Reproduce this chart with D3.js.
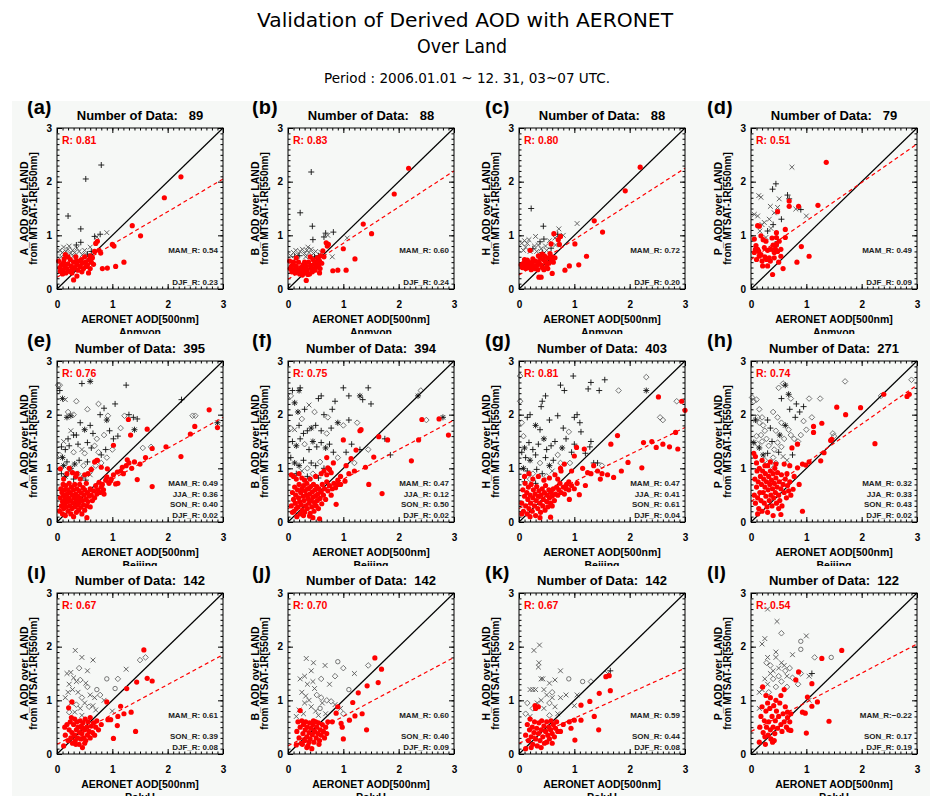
<!DOCTYPE html>
<html>
<head>
<meta charset="utf-8">
<script src="https://cdn.jsdelivr.net/npm/d3@7"></script>
<style>
  body { margin: 0; background: #fff; }
  text { font-family: "Liberation Sans", Arial, sans-serif; }
</style>
</head>
<body>
<div id="myVis"></div>
<script>
// panel metadata
const panelTags = ["(a)","(b)","(c)","(d)","(e)","(f)","(g)","(h)","(i)","(j)","(k)","(l)"]
const nData = [89, 88, 88, 79, 395, 394, 403, 271, 142, 142, 142, 122]
const rTotal = ["0.81","0.83","0.80","0.51","0.76","0.75","0.81","0.74","0.67","0.70","0.67","0.54"]
const sensors = ["A", "B", "H", "P"]
const stations = ["Anmyon", "Beijing", "PolyU"]
// regression line: value at x=0 and value at x=3
const fitAt0 = [0.22, 0.18, 0.26, 0.55, 0.22, 0.25, 0.25, 0.38, 0.18, 0.15, 0.20, 0.42]
const fitAt3 = [2.05, 2.20, 2.25, 2.70, 1.95, 1.90, 1.76, 2.55, 1.85, 1.80, 1.60, 2.05]
// seasonal R
const mamR = [0.54, 0.60, 0.72, 0.49, 0.49, 0.47, 0.47, 0.32, 0.61, 0.60, 0.59, -0.22]
const jjaR = [null, null, null, null, 0.36, 0.12, 0.41, 0.33, null, null, null, null]
const sonR = [null, null, null, null, 0.40, 0.50, 0.61, 0.43, 0.39, 0.40, 0.44, 0.17]
const djfR = [0.23, 0.24, 0.20, 0.09, 0.02, 0.02, 0.04, 0.02, 0.08, 0.09, 0.08, 0.19]
const axisTicks = [0, 1, 2, 3]

// red = matched points [aeronet, satellite]; blk = [aeronet, satellite, symbol]
// symbol: 0 plus, 1 cross, 2 diamond, 3 asterisk, 4 circle
const redA = [[2.24,2.09],[1.94,1.70],[1.36,1.18],[1.51,0.99],[1.0,0.83],[1.03,0.80],[1.06,0.42],[1.21,0.50],[0.82,0.38],[0.91,0.39],[0.73,0.89],[0.70,0.85],[0.79,0.67],[0.76,0.72],[0.57,0.30],[0.30,0.17],[0.36,0.24],[0.15,0.64],[0.03,0.52],
[0.05,0.40],[0.08,0.45],[0.1,0.35],[0.12,0.5],[0.14,0.42],[0.16,0.3],[0.18,0.38],[0.2,0.47],[0.22,0.33],[0.24,0.55],[0.26,0.42],[0.28,0.36],[0.3,0.5],[0.32,0.4],[0.34,0.6],[0.36,0.45],[0.38,0.35],[0.4,0.52],[0.42,0.42],[0.44,0.55],[0.46,0.48],[0.48,0.38],[0.5,0.6],[0.52,0.5],[0.55,0.45],[0.58,0.55],[0.6,0.62],[0.62,0.5],[0.64,0.58],[0.66,0.46],[0.2,0.6],[0.1,0.28],[0.06,0.33],[0.13,0.56],[0.27,0.3],[0.35,0.52],[0.45,0.32],[0.53,0.42],[0.68,0.7],[0.6,0.38]]
const blkA = [[0.8,2.31,0],[0.52,2.05,0],[0.2,1.36,0],[0.43,1.12,0],[0.43,0.87,0],[0.68,0.98,0],[0.78,1.02,0],[0.72,0.97,1],[0.9,1.05,1],
[0.05,0.72,1],[0.1,0.68,1],[0.12,0.78,1],[0.16,0.7,1],[0.2,0.74,1],[0.24,0.66,1],[0.28,0.72,1],[0.32,0.68,1],[0.36,0.76,1],[0.4,0.7,1],[0.15,0.62,1],[0.3,0.62,1],[0.46,0.64,1],[0.5,0.72,1],[0.08,0.6,1],[0.55,0.65,0],[0.62,0.7,0],[0.35,0.82,0],[0.22,0.8,1],[0.6,0.78,1]]

const redB = [[2.18,2.25],[1.92,1.77],[1.36,1.21],[1.51,1.03],[1.0,0.75],[1.05,0.35],[1.21,0.56],[0.81,0.34],[0.9,0.35],[0.69,0.86],[0.71,0.8],[0.73,0.83],[0.63,0.71],[0.57,0.3],[0.33,0.16],[0.03,0.52],[0.15,0.58],
[0.04,0.38],[0.07,0.32],[0.09,0.45],[0.11,0.36],[0.13,0.3],[0.15,0.42],[0.17,0.35],[0.19,0.5],[0.21,0.28],[0.23,0.4],[0.25,0.33],[0.27,0.45],[0.29,0.38],[0.31,0.3],[0.33,0.42],[0.35,0.36],[0.37,0.5],[0.39,0.28],[0.41,0.44],[0.43,0.38],[0.45,0.55],[0.47,0.46],[0.49,0.35],[0.51,0.5],[0.53,0.58],[0.55,0.44],[0.57,0.52],[0.59,0.62],[0.61,0.48],[0.65,0.6],[0.5,0.4],[0.4,0.6],[0.3,0.5],[0.2,0.34],[0.1,0.5],[0.06,0.42],[0.26,0.26],[0.44,0.32],[0.36,0.27],[0.58,0.38]]
const blkB = [[0.42,2.18,0],[0.22,1.42,0],[0.44,1.17,0],[0.45,0.92,0],[0.68,1.04,0],[0.82,1.06,0],[0.65,0.97,0],[0.72,1.0,1],[1.07,0.95,1],[0.8,0.6,1],[0.05,0.62,1],[0.1,0.68,1],[0.14,0.72,1],[0.18,0.64,1],[0.22,0.7,1],[0.26,0.74,1],[0.3,0.66,1],[0.34,0.72,1],[0.38,0.68,1],[0.42,0.74,1],[0.46,0.66,1],[0.5,0.7,1],[0.2,0.62,0],[0.32,0.6,1],[0.55,0.62,0],[0.6,0.68,1],[0.12,0.6,0],[0.36,0.78,1],[0.48,0.6,0]]

const redC = [[2.19,2.27],[1.92,1.83],[1.36,1.27],[1.51,1.06],[1.01,0.84],[1.08,0.45],[1.22,0.61],[0.83,0.35],[0.91,0.43],[0.63,1.03],[0.71,0.92],[0.58,0.84],[0.73,0.83],[0.6,0.29],[0.36,0.22],[0.4,0.22],[0.75,0.98],
[0.04,0.45],[0.06,0.4],[0.08,0.48],[0.1,0.42],[0.12,0.38],[0.14,0.46],[0.16,0.4],[0.18,0.5],[0.2,0.44],[0.22,0.36],[0.24,0.48],[0.26,0.42],[0.28,0.38],[0.3,0.52],[0.32,0.44],[0.34,0.36],[0.36,0.5],[0.38,0.58],[0.4,0.45],[0.42,0.4],[0.44,0.55],[0.46,0.62],[0.48,0.5],[0.5,0.42],[0.52,0.58],[0.54,0.48],[0.56,0.66],[0.58,0.54],[0.6,0.6],[0.62,0.5],[0.45,0.36],[0.35,0.62],[0.25,0.56],[0.15,0.54],[0.2,0.72],[0.1,0.55],[0.65,0.58],[0.52,0.38],[0.3,0.4],[0.42,0.65]]
const blkC = [[0.22,1.5,0],[0.44,1.17,0],[0.45,0.93,0],[0.7,1.02,0],[0.25,0.75,0],[0.1,0.9,1],[0.15,0.85,1],[0.3,0.98,1],[0.35,0.82,1],[0.4,0.75,1],[0.55,0.9,1],[0.72,1.12,1],[1.05,1.22,1],[0.2,0.7,1],[0.12,0.78,1],[0.5,0.72,1],[0.8,1.0,1],[0.65,0.95,1],[0.05,0.85,1],[0.08,0.72,1],[0.18,0.92,1],[0.28,0.8,1],[0.38,0.88,0],[0.48,0.8,1],[0.58,0.76,0],[0.66,0.82,1],[0.32,0.7,1],[0.42,0.68,0]]

const redD = [[1.36,2.36],[1.21,1.56],[0.86,1.54],[0.69,1.54],[0.69,1.64],[0.48,1.44],[0.62,1.11],[0.62,0.96],[1.05,0.61],[0.91,0.79],[0.83,0.5],[0.58,0.38],[0.39,0.27],[0.12,1.18],[0.15,1.17],[0.09,0.81],[0.12,0.74],[0.15,0.61],[0.21,0.43],[0.3,0.43],[0.33,0.58],[0.42,0.58],[0.46,0.83],[0.46,0.96],[0.46,1.05],[0.42,0.68],[0.54,0.61],[0.54,0.74],[0.51,0.89],[0.06,0.93],[0.06,0.68],[0.24,0.77],[0.36,0.74],[0.27,0.89],[0.18,0.99],[0.08,0.74],[0.1,0.55],[0.14,0.7],[0.2,0.52],[0.25,0.6],[0.3,0.72],[0.35,0.52],[0.4,0.82],[0.44,0.75],[0.48,0.7],[0.5,0.5],[0.22,0.92],[0.38,0.95],[0.18,0.64],[0.28,0.55]]
const blkD = [[0.74,2.27,1],[0.14,1.74,1],[0.18,1.71,1],[0.51,1.68,1],[0.35,1.54,1],[0.48,1.52,1],[0.06,1.39,1],[0.12,1.36,1],[0.24,1.24,1],[0.33,1.3,1],[0.36,1.13,1],[0.27,0.96,1],[1.0,1.36,1],[0.81,1.49,1],[0.16,1.08,1],[0.39,1.86,0],[0.45,1.96,0],[0.66,1.75,0],[0.69,1.68,0],[0.9,1.48,0],[0.45,0.8,0],[0.3,1.08,0],[0.4,1.2,0],[0.42,1.42,1],[0.2,1.2,1],[0.55,1.3,0],[0.48,0.88,0]]

const redE = [[2.75,2.09],[2.49,1.78],[2.9,1.76],[2.41,1.64],[2.24,1.22],[1.97,1.4],[1.72,1.37],[1.72,0.66],[1.45,0.79],[1.63,1.73],[1.29,1.91],[1.33,1.62],[1.27,1.16],[1.02,1.43],[1.06,0.71],[0.97,0.77],[0.85,0.52],[0.73,1.15],[0.8,1.02],[0.91,0.99],[1.09,0.93],[1.18,1.02],[0.54,0.08],[0.06,0.99],[0.36,0.9],
[0.05,0.2],[0.06,0.45],[0.07,0.62],[0.08,0.3],[0.09,0.55],[0.1,0.15],[0.1,0.38],[0.11,0.7],[0.12,0.25],[0.12,0.5],[0.13,0.6],[0.14,0.33],[0.15,0.44],[0.15,0.12],[0.16,0.68],[0.17,0.28],[0.18,0.52],[0.19,0.38],[0.2,0.2],[0.2,0.6],[0.21,0.45],[0.22,0.72],[0.23,0.3],[0.24,0.55],[0.25,0.15],[0.25,0.4],[0.26,0.65],[0.27,0.25],[0.28,0.5],[0.29,0.35],[0.3,0.6],[0.3,0.1],[0.31,0.45],[0.32,0.7],[0.33,0.28],[0.34,0.52],[0.35,0.18],[0.35,0.4],[0.36,0.62],[0.37,0.32],[0.38,0.48],[0.39,0.22],[0.4,0.58],[0.4,0.36],[0.41,0.7],[0.42,0.44],[0.43,0.27],[0.44,0.54],[0.45,0.15],[0.46,0.4],[0.47,0.64],[0.48,0.32],[0.49,0.5],[0.5,0.22],[0.5,0.6],[0.52,0.42],[0.53,0.72],[0.54,0.3],[0.55,0.55],[0.56,0.38],[0.58,0.48],[0.6,0.62],[0.6,0.28],[0.62,0.5],[0.64,0.4],[0.66,0.58],[0.68,0.45],[0.7,0.68],[0.72,0.52],[0.74,0.6],[0.76,0.74],[0.78,0.55],[0.8,0.65],[0.82,0.7],[0.84,0.6],[0.88,0.78],[0.9,0.84],[0.94,0.72],[0.98,0.8],[1.02,0.88],[1.1,0.72],[1.15,0.95],[1.2,0.9],[1.25,1.05],[1.3,1.1],[1.35,1.0],[1.4,1.12],[1.5,1.08],[1.6,1.2],[0.12,0.8],[0.18,0.9],[0.22,1.0],[0.28,0.92],[0.34,0.85],[0.42,0.8],[0.5,0.88],[0.56,0.9],[0.62,0.98],[0.68,1.12],[0.72,1.15]]
const blkE = [[0.02,2.55,2],[0.05,2.45,0],[0.1,2.3,3],[0.15,2.28,1],[0.2,2.05,2],[0.18,1.95,3],[0.25,1.98,3],[0.35,2.25,2],[0.45,2.58,0],[0.6,2.62,3],[0.55,2.1,2],[0.75,2.2,2],[0.78,2.0,0],[0.85,2.12,0],[0.92,1.98,2],[0.9,1.9,3],[1.05,2.2,0],[1.25,2.55,0],[1.22,1.98,2],[1.3,2.0,0],[1.38,1.95,0],[1.45,1.92,0],[1.4,1.72,3],[1.15,1.75,2],[1.1,1.6,0],[1.02,1.55,0],[0.95,1.7,0],[0.85,1.62,2],[0.72,1.55,2],[0.65,1.65,0],[0.6,1.8,0],[0.5,1.72,3],[0.42,1.85,0],[0.35,1.62,0],[0.3,1.62,0],[0.25,1.7,1],[0.2,1.55,0],[0.12,1.5,1],[0.08,1.4,0],[0.05,1.25,2],[0.1,1.2,3],[0.15,1.35,0],[0.22,1.42,0],[0.3,1.3,2],[0.38,1.45,0],[0.45,1.35,1],[0.5,1.28,2],[0.55,1.48,0],[0.62,1.38,0],[0.68,1.42,2],[0.75,1.3,2],[0.8,1.25,0],[0.88,1.35,0],[1.0,1.35,2],[0.12,1.05,3],[0.18,1.12,0],[0.25,1.0,3],[0.32,1.08,3],[0.4,1.15,0],[0.48,1.05,2],[0.55,1.12,0],[0.62,0.98,0],[0.7,1.05,2],[0.8,1.1,2],[0.08,0.9,0],[0.15,0.85,3],[0.22,0.95,1],[0.3,0.8,0],[0.38,0.9,2],[0.45,0.82,0],[0.52,0.78,0],[0.6,0.88,1],[0.9,1.2,2],[1.7,1.4,2],[2.5,1.98,2],[2.45,1.98,2],[2.9,1.85,3],[2.25,2.28,0],[0.05,2.55,2],[0.3,2.0,2],[1.55,1.38,2]]

const redF = [[2.42,1.91],[2.73,1.92],[2.9,1.62],[2.36,1.53],[2.23,1.14],[1.8,1.53],[1.64,1.59],[1.7,0.53],[1.46,0.7],[1.55,1.21],[1.3,1.7],[1.32,1.72],[1.23,1.34],[1.0,1.53],[1.14,1.18],[1.05,1.05],[0.87,0.33],[1.03,0.76],[0.9,0.7],[0.72,1.01],[0.78,0.92],[0.06,0.88],[0.39,0.11],[0.57,0.06],[1.4,1.02],[1.2,0.95],[1.1,0.9],[0.95,0.85],[0.82,1.1],[0.7,1.2],
[0.06,0.3],[0.08,0.55],[0.1,0.42],[0.11,0.2],[0.12,0.65],[0.13,0.35],[0.14,0.5],[0.16,0.1],[0.17,0.6],[0.18,0.28],[0.19,0.45],[0.2,0.7],[0.21,0.38],[0.22,0.15],[0.23,0.55],[0.24,0.32],[0.25,0.62],[0.26,0.22],[0.27,0.48],[0.28,0.68],[0.29,0.4],[0.3,0.18],[0.31,0.58],[0.32,0.3],[0.33,0.5],[0.34,0.72],[0.35,0.25],[0.36,0.44],[0.37,0.62],[0.38,0.35],[0.39,0.52],[0.4,0.16],[0.41,0.66],[0.42,0.4],[0.43,0.28],[0.44,0.56],[0.45,0.46],[0.46,0.7],[0.47,0.2],[0.48,0.36],[0.49,0.6],[0.5,0.48],[0.51,0.3],[0.52,0.66],[0.53,0.4],[0.54,0.52],[0.55,0.25],[0.56,0.62],[0.58,0.44],[0.6,0.56],[0.61,0.34],[0.62,0.7],[0.64,0.5],[0.66,0.62],[0.68,0.42],[0.7,0.75],[0.72,0.58],[0.75,0.68],[0.78,0.5],[0.8,0.62],[0.83,0.72],[0.86,0.64],[0.9,0.78],[0.95,0.7],[0.1,0.85],[0.15,0.8],[0.2,0.9],[0.25,0.82],[0.3,0.78],[0.4,0.8],[0.5,0.85],[0.6,0.9],[0.65,0.95],[0.7,0.88],[0.75,0.98],[0.15,0.25],[0.28,0.12],[0.45,0.08],[0.35,0.62],[0.08,0.18]]
const blkF = [[0.05,2.35,2],[0.08,2.45,0],[0.12,2.22,3],[0.2,2.45,3],[0.22,2.5,0],[0.18,2.05,3],[0.25,1.92,2],[0.3,2.1,0],[0.38,2.18,1],[0.48,2.05,2],[0.55,2.3,0],[0.6,2.35,0],[0.72,1.95,2],[0.65,2.0,0],[0.8,2.1,0],[0.85,2.25,0],[1.0,2.5,0],[1.1,2.35,0],[1.3,2.35,3],[1.35,2.28,0],[1.5,2.2,0],[1.45,2.5,0],[1.25,1.85,2],[1.1,1.9,0],[1.0,1.8,2],[0.9,1.85,3],[0.78,1.75,0],[0.7,1.65,2],[0.6,1.7,0],[0.5,1.8,0],[0.42,1.75,3],[0.35,1.7,0],[0.28,1.65,0],[0.2,1.8,0],[0.12,1.72,1],[0.05,1.75,2],[0.08,1.5,0],[0.15,1.42,3],[0.22,1.55,0],[0.3,1.45,2],[0.38,1.35,0],[0.45,1.5,3],[0.52,1.4,0],[0.6,1.48,0],[0.68,1.38,3],[0.75,1.45,0],[0.82,1.3,0],[0.9,1.2,2],[1.15,1.45,0],[1.3,1.35,0],[1.05,1.3,0],[0.05,1.2,0],[0.12,1.1,3],[0.2,1.05,3],[0.28,1.15,0],[0.35,1.0,2],[0.42,1.1,0],[0.5,1.05,0],[0.58,1.12,2],[0.65,1.0,0],[0.15,0.9,0],[0.25,0.95,1],[0.35,0.85,0],[0.45,0.9,2],[0.55,0.82,0],[2.35,2.35,3],[2.4,2.45,2],[2.5,1.9,2],[2.8,1.95,3],[1.75,1.55,0],[1.45,1.35,2],[1.2,1.1,2],[1.85,1.25,0]]

const redG = [[2.52,2.33],[2.94,2.25],[3.0,2.08],[2.83,1.67],[2.87,1.36],[2.72,1.4],[2.48,1.39],[2.25,1.48],[2.22,1.01],[1.97,1.11],[1.78,1.61],[1.71,0.83],[1.66,1.45],[1.47,0.8],[1.42,0.95],[1.24,0.92],[1.18,1.36],[1.0,1.23],[1.04,1.39],[0.82,1.08],[0.76,0.95],[1.09,0.51],[0.91,0.42],[0.57,0.09],[1.3,0.9],[1.5,0.9],[1.15,1.0],[1.35,1.05],[0.9,0.75],[1.05,0.72],[0.95,0.95],[0.75,1.0],[0.85,0.62],[1.2,0.68],[1.6,0.88],[1.85,0.95],[2.4,1.5],[2.6,1.45],
[0.05,0.35],[0.07,0.6],[0.08,0.2],[0.1,0.48],[0.11,0.72],[0.12,0.3],[0.14,0.55],[0.15,0.15],[0.16,0.42],[0.17,0.65],[0.18,0.25],[0.2,0.5],[0.21,0.35],[0.22,0.7],[0.24,0.2],[0.25,0.45],[0.26,0.6],[0.28,0.3],[0.29,0.52],[0.3,0.12],[0.31,0.4],[0.32,0.66],[0.34,0.25],[0.35,0.48],[0.36,0.58],[0.38,0.35],[0.39,0.18],[0.4,0.5],[0.42,0.62],[0.43,0.3],[0.44,0.42],[0.46,0.55],[0.47,0.22],[0.48,0.68],[0.5,0.38],[0.51,0.5],[0.52,0.28],[0.54,0.6],[0.55,0.45],[0.57,0.35],[0.58,0.55],[0.6,0.48],[0.62,0.62],[0.64,0.4],[0.66,0.52],[0.68,0.65],[0.7,0.5],[0.72,0.6],[0.74,0.72],[0.76,0.55],[0.8,0.65],[0.82,0.52],[0.86,0.7],[0.9,0.6],[0.95,0.68],[1.0,0.62],[0.1,0.85],[0.18,0.9],[0.25,0.8],[0.35,0.85],[0.45,0.78],[0.55,0.82],[0.65,0.88],[0.05,0.15],[0.2,0.1],[0.38,0.08],[0.6,0.3],[0.7,0.8]]
const blkG = [[0.02,2.72,2],[0.02,2.25,2],[0.05,1.85,2],[0.08,1.6,2],[0.75,2.55,0],[0.82,2.45,0],[0.48,2.35,0],[0.42,2.25,0],[0.4,2.15,0],[0.2,2.0,0],[0.15,1.95,0],[0.3,1.8,3],[0.38,1.72,0],[0.55,1.9,0],[0.7,1.98,0],[0.8,1.75,0],[0.9,1.68,2],[1.0,1.95,0],[1.05,2.0,0],[1.1,1.85,0],[1.12,1.68,0],[0.98,2.72,0],[1.3,2.6,0],[1.55,2.65,0],[1.45,2.45,0],[1.25,2.48,0],[1.8,2.45,2],[1.3,1.5,0],[1.0,1.45,0],[0.85,1.55,0],[0.78,1.38,3],[0.65,1.5,0],[0.58,1.42,0],[0.5,1.35,0],[0.45,1.55,3],[0.35,1.45,0],[0.25,1.35,0],[0.18,1.48,0],[0.1,1.38,3],[0.05,1.3,0],[0.12,1.2,0],[0.2,1.15,3],[0.3,1.25,0],[0.38,1.1,2],[0.48,1.2,0],[0.55,1.05,3],[0.62,1.15,0],[0.7,1.25,2],[0.75,1.1,2],[0.92,1.1,2],[1.35,1.1,0],[1.42,1.1,0],[0.08,1.0,3],[0.15,0.95,0],[0.25,0.9,2],[0.32,0.98,0],[0.42,0.9,0],[0.5,0.85,2],[0.6,0.95,1],[0.1,0.75,0],[0.2,0.8,2],[0.3,0.72,0],[2.3,2.7,2],[2.3,2.45,3],[2.55,1.95,2],[2.6,1.9,2],[2.85,2.25,2],[1.2,1.28,0],[1.5,1.05,2],[1.28,1.4,0],[0.95,1.3,0]]

const redH = [[2.4,2.38],[2.86,2.38],[2.82,2.34],[2.24,1.46],[1.98,2.13],[1.71,2.0],[1.55,2.14],[1.28,1.84],[1.13,1.78],[1.13,1.67],[1.46,1.54],[1.44,1.52],[1.32,1.29],[1.26,1.14],[0.93,0.2],[0.84,1.45],[0.74,1.38],[0.84,1.01],[0.93,1.08],[0.99,1.06],[0.54,0.14],[0.87,0.7],[0.76,0.61],[1.05,1.12],[0.7,1.05],[0.65,0.9],[0.78,0.85],[0.6,1.08],[0.05,1.28],[0.08,1.22],
[0.06,0.5],[0.07,0.8],[0.08,0.35],[0.1,0.65],[0.11,0.95],[0.12,0.45],[0.13,0.75],[0.14,0.25],[0.15,1.0],[0.16,0.55],[0.17,0.85],[0.18,0.4],[0.19,0.7],[0.2,0.2],[0.21,0.95],[0.22,0.55],[0.23,0.8],[0.24,0.35],[0.25,0.65],[0.26,0.9],[0.27,0.48],[0.28,0.75],[0.29,0.28],[0.3,1.05],[0.31,0.6],[0.32,0.85],[0.33,0.4],[0.34,0.7],[0.35,0.95],[0.36,0.5],[0.37,0.78],[0.38,0.3],[0.39,0.62],[0.4,0.9],[0.41,0.45],[0.42,0.72],[0.43,1.0],[0.44,0.55],[0.45,0.82],[0.46,0.35],[0.47,0.65],[0.48,0.92],[0.5,0.5],[0.51,0.75],[0.52,0.4],[0.54,0.62],[0.55,0.88],[0.56,0.3],[0.58,0.7],[0.6,0.55],[0.62,0.8],[0.64,0.45],[0.66,0.68],[0.68,0.58],[0.7,0.75],[0.72,0.5],[0.1,1.1],[0.2,1.15],[0.25,1.05],[0.35,1.12],[0.45,1.08],[0.12,0.15],[0.3,0.18],[0.4,0.12],[0.5,0.25]]
const blkH = [[0.02,2.32,2],[0.05,2.25,2],[0.1,2.28,2],[0.15,2.1,2],[0.12,1.95,2],[0.08,1.9,3],[0.15,1.85,2],[0.2,1.95,2],[0.22,1.8,2],[0.25,1.7,2],[0.18,1.62,2],[0.1,1.6,2],[0.05,1.48,3],[0.12,1.45,2],[0.2,1.5,2],[0.28,1.55,2],[0.32,1.42,2],[0.38,1.5,0],[0.42,1.35,2],[0.48,1.48,2],[0.55,1.4,2],[0.6,1.55,2],[0.52,1.62,3],[0.45,1.7,2],[0.35,1.75,0],[0.3,1.9,0],[0.4,2.05,2],[0.48,1.95,2],[0.55,1.85,2],[0.62,1.8,3],[0.68,1.72,2],[0.72,1.62,2],[0.78,1.55,2],[0.85,1.5,2],[0.9,1.62,2],[0.95,1.88,2],[1.0,1.72,2],[0.8,1.95,0],[0.88,2.05,0],[0.7,2.1,0],[0.55,2.3,0],[0.5,2.5,2],[0.58,2.58,2],[0.62,2.55,3],[0.68,2.38,3],[0.72,2.3,2],[0.82,2.2,0],[0.95,2.15,0],[1.05,2.3,2],[1.25,2.3,2],[1.1,1.95,2],[1.5,1.6,2],[1.48,1.65,2],[0.3,1.28,0],[0.22,1.25,3],[0.4,1.2,2],[0.5,1.3,0],[0.58,1.22,1],[0.15,1.38,3],[0.25,1.15,2],[0.35,1.05,2],[1.7,2.62,2],[2.35,2.35,2],[2.9,2.65,2],[0.65,1.15,1],[0.75,1.25,0],[0.45,1.1,2]]

const redI = [[1.57,1.94],[1.72,1.36],[1.63,1.41],[1.44,1.34],[1.26,1.22],[1.34,0.78],[1.21,0.75],[1.15,0.89],[1.1,0.7],[1.42,0.42],[1.02,0.29],[1.09,0.53],[0.97,0.64],[0.92,0.64],[0.9,0.97],[0.21,0.86],[0.27,0.97],[0.8,0.55],[0.75,0.45],
[0.12,0.15],[0.15,0.35],[0.18,0.55],[0.2,0.25],[0.22,0.45],[0.24,0.6],[0.25,0.3],[0.27,0.4],[0.28,0.2],[0.3,0.55],[0.31,0.35],[0.32,0.65],[0.33,0.25],[0.35,0.45],[0.36,0.6],[0.37,0.3],[0.38,0.5],[0.4,0.18],[0.41,0.4],[0.42,0.62],[0.43,0.28],[0.44,0.52],[0.45,0.38],[0.46,0.12],[0.47,0.58],[0.48,0.3],[0.5,0.45],[0.51,0.65],[0.52,0.25],[0.54,0.5],[0.55,0.35],[0.56,0.6],[0.58,0.42],[0.6,0.3],[0.62,0.52],[0.64,0.4],[0.66,0.58],[0.68,0.35],[0.7,0.5],[0.72,0.62],[0.14,0.5],[0.26,0.68],[0.34,0.18],[0.5,0.2],[0.6,0.68],[0.46,0.48]]
const blkI = [[0.33,1.93,1],[0.45,1.8,1],[0.65,1.75,1],[0.18,1.5,1],[0.25,1.52,1],[0.3,1.42,1],[0.22,1.3,1],[0.35,1.35,1],[0.42,1.38,2],[0.52,1.32,1],[0.55,1.25,2],[0.2,1.15,1],[0.28,1.2,1],[0.38,1.15,1],[0.45,1.05,2],[0.6,1.1,1],[0.68,1.05,1],[0.78,1.1,2],[0.25,0.95,1],[0.35,0.92,2],[0.42,0.85,1],[0.5,0.95,1],[0.58,0.88,2],[0.65,0.9,1],[0.7,0.82,1],[0.32,0.78,1],[0.45,0.72,1],[0.9,1.4,4],[1.1,1.4,2],[1.25,1.58,1],[1.05,1.22,4],[0.85,1.0,1],[1.5,1.75,2],[1.6,1.8,2],[1.0,0.8,1],[0.15,1.05,1],[0.22,0.78,2],[0.55,1.55,1],[0.4,1.6,2],[0.72,1.2,4]]

const redJ = [[1.57,1.79],[1.69,1.58],[1.63,1.33],[1.43,1.27],[1.27,1.14],[1.17,0.96],[1.34,0.75],[1.21,0.71],[1.11,0.63],[1.42,0.45],[1.0,0.28],[0.96,0.57],[0.9,0.88],[0.87,0.76],[0.22,0.81],[0.15,0.17],[0.98,0.5],[0.8,0.6],
[0.16,0.42],[0.18,0.6],[0.2,0.3],[0.22,0.5],[0.24,0.2],[0.25,0.62],[0.27,0.38],[0.28,0.55],[0.3,0.25],[0.31,0.45],[0.32,0.6],[0.34,0.32],[0.35,0.5],[0.36,0.15],[0.38,0.4],[0.39,0.58],[0.4,0.28],[0.42,0.48],[0.43,0.1],[0.44,0.36],[0.45,0.55],[0.47,0.22],[0.48,0.42],[0.5,0.6],[0.51,0.3],[0.52,0.5],[0.54,0.38],[0.55,0.58],[0.57,0.25],[0.58,0.45],[0.6,0.35],[0.62,0.55],[0.64,0.42],[0.66,0.3],[0.68,0.5],[0.7,0.38],[0.72,0.6],[0.26,0.18],[0.38,0.22],[0.46,0.62],[0.56,0.18],[0.34,0.12]]
const blkJ = [[0.33,1.78,1],[0.46,1.7,1],[0.67,1.65,1],[0.3,1.45,1],[0.22,1.4,1],[0.35,1.3,1],[0.45,1.35,1],[0.48,1.22,1],[0.25,1.15,1],[0.32,1.08,1],[0.38,1.0,1],[0.3,0.95,1],[0.42,0.88,1],[0.2,0.82,1],[0.28,0.75,1],[0.5,0.8,1],[0.55,0.72,1],[0.62,0.95,1],[0.7,1.0,2],[0.78,0.98,2],[0.85,0.92,1],[0.6,1.05,2],[0.52,1.1,2],[0.9,1.72,4],[1.0,1.6,2],[1.45,1.65,2],[1.2,1.5,1],[0.75,1.3,1],[0.6,1.4,2],[0.85,1.45,2],[1.1,1.2,4],[0.95,0.85,1],[1.0,0.75,2],[0.42,1.55,1],[0.15,0.7,1],[0.68,0.75,1],[0.58,0.85,4]]

const redK = [[1.63,1.46],[1.57,1.44],[1.65,1.18],[1.45,1.13],[1.28,0.98],[1.12,0.91],[1.36,0.7],[1.12,0.63],[1.0,0.63],[0.91,0.6],[1.44,0.45],[1.01,0.26],[0.94,0.48],[0.29,0.9],[0.12,0.1],[0.8,0.55],[0.75,0.42],
[0.12,0.35],[0.15,0.55],[0.17,0.25],[0.19,0.45],[0.2,0.65],[0.22,0.32],[0.24,0.5],[0.25,0.18],[0.27,0.4],[0.28,0.6],[0.3,0.28],[0.32,0.48],[0.33,0.15],[0.35,0.38],[0.36,0.58],[0.38,0.25],[0.4,0.45],[0.41,0.62],[0.43,0.32],[0.45,0.52],[0.46,0.2],[0.48,0.42],[0.5,0.6],[0.52,0.35],[0.54,0.5],[0.55,0.28],[0.57,0.45],[0.58,0.62],[0.6,0.38],[0.62,0.55],[0.64,0.32],[0.66,0.48],[0.68,0.6],[0.7,0.42],[0.3,0.85],[0.35,0.88],[0.22,0.12],[0.4,0.12],[0.5,0.22],[0.6,0.2]]
const blkK = [[0.27,1.93,1],[0.37,2.03,1],[0.36,1.7,1],[0.35,1.62,1],[0.4,1.4,1],[0.43,1.4,1],[0.25,1.2,1],[0.3,1.2,1],[0.55,1.32,1],[0.65,1.38,1],[0.75,1.55,1],[0.2,1.2,1],[0.45,1.2,1],[0.5,1.1,1],[0.6,1.05,1],[0.4,1.0,1],[0.33,0.95,1],[0.25,0.85,2],[0.45,0.85,1],[0.55,0.95,2],[0.65,0.88,1],[0.75,1.05,1],[0.85,1.1,1],[0.15,0.95,2],[0.12,0.75,2],[0.2,0.7,1],[0.9,1.4,4],[1.15,1.35,4],[1.3,1.35,2],[1.6,1.5,1],[1.65,1.55,0],[1.05,1.1,1],[1.0,0.9,1],[0.7,0.75,1],[0.55,0.72,2],[0.6,1.15,2]]

const redL = [[1.64,1.93],[1.28,1.78],[0.86,1.53],[0.81,1.38],[1.1,1.31],[1.02,1.06],[1.1,0.89],[1.2,0.97],[0.93,0.78],[0.98,0.76],[1.41,0.61],[1.0,0.39],[0.66,0.78],[0.72,0.44],[0.39,0.22],[0.15,0.22],[0.21,1.25],[0.27,1.09],[0.54,1.09],[0.6,1.2],
[0.16,0.5],[0.18,0.7],[0.2,0.88],[0.22,0.4],[0.24,0.62],[0.25,0.32],[0.27,0.8],[0.28,0.5],[0.3,0.95],[0.31,0.35],[0.32,0.6],[0.34,0.85],[0.35,0.45],[0.36,0.28],[0.38,0.7],[0.4,0.5],[0.41,0.9],[0.43,0.38],[0.44,0.62],[0.46,0.8],[0.48,0.48],[0.5,0.7],[0.52,0.95],[0.54,0.55],[0.56,0.42],[0.58,0.75],[0.6,0.6],[0.62,0.88],[0.64,0.5],[0.66,0.68],[0.68,0.45],[0.7,0.6],[0.72,0.75],[0.45,1.0],[0.35,1.05],[0.26,0.18],[0.42,0.25]]
const blkL = [[0.3,2.7,1],[0.47,2.47,1],[0.25,2.15,1],[0.2,2.05,1],[0.45,1.9,1],[0.3,1.8,1],[0.45,1.8,1],[0.75,1.85,1],[1.0,2.2,1],[0.55,1.7,1],[0.6,1.65,1],[0.35,1.5,1],[0.2,1.2,1],[0.15,1.15,1],[1.05,1.0,1],[0.65,1.45,1],[0.25,1.4,1],[0.4,1.55,1],[0.5,1.6,1],[0.3,1.3,1],[0.15,0.85,1],[0.55,2.25,2],[0.9,2.1,4],[0.9,1.95,4],[1.15,1.8,2],[1.45,1.8,4],[0.9,1.5,2],[0.62,1.55,2],[0.4,1.4,2],[0.5,1.45,2],[0.7,1.6,2],[0.35,1.65,2],[0.55,1.35,2],[0.45,1.25,2],[0.75,1.42,2],[0.85,1.3,2],[1.05,1.45,1],[1.1,1.5,0],[0.65,1.25,2],[0.32,1.15,2],[0.28,1.7,2]]

const redSets = [redA, redB, redC, redD, redE, redF, redG, redH, redI, redJ, redK, redL]
const blkSets = [blkA, blkB, blkC, blkD, blkE, blkF, blkG, blkH, blkI, blkJ, blkK, blkL]

// layout
const colX = [57, 288, 519, 751]
const rowY = [128, 361, 593]
const tagX = [27, 252, 485, 707]
const W = 166, H = 161

const symPath = [
  "M-3,0H3M0,-3V3",
  "M-2.4,-2.4L2.4,2.4M-2.4,2.4L2.4,-2.4",
  "M0,-2.8L2.8,0L0,2.8L-2.8,0Z",
  "M-3,0H3M0,-3V3M-2.2,-2.2L2.2,2.2M-2.2,2.2L2.2,-2.2",
  "M2.2,0A2.2,2.2 0 1,1 -2.2,0A2.2,2.2 0 1,1 2.2,0"
]
const symColor = ["#111", "#555", "#666", "#111", "#666"]

const svg = d3.select("#myVis")
    .append("svg")
        .attr("width", 930)
        .attr("height", 796)

// title
const titleFont = "'DejaVu Sans', 'Noto Sans', sans-serif"
svg.append("text").attr("x", 465).attr("y", 27).attr("text-anchor", "middle")
    .attr("font-size", 19).attr("textLength", 416).attr("lengthAdjust", "spacingAndGlyphs")
    .style("font-family", titleFont)
    .text("Validation of Derived AOD with AERONET")
svg.append("text").attr("x", 462).attr("y", 53).attr("text-anchor", "middle")
    .attr("font-size", 19).attr("textLength", 90).attr("lengthAdjust", "spacingAndGlyphs")
    .style("font-family", titleFont)
    .text("Over Land")
svg.append("text").attr("x", 467).attr("y", 83).attr("text-anchor", "middle")
    .attr("font-size", 14).attr("textLength", 286).attr("lengthAdjust", "spacingAndGlyphs")
    .style("font-family", titleFont)
    .text("Period : 2006.01.01 ~ 12. 31, 03~07 UTC.")

const defs = svg.append("defs")
const fmtN = d3.format("5d")
const fmtR = d3.format("5.2f")

panelTags.forEach((tag, i) => {
  const row = Math.floor(i / 4), col = i % 4
  const bx = colX[col], by = rowY[row]

  defs.append("clipPath").attr("id", "clip" + i)
    .append("rect").attr("x", bx - 45).attr("y", by - 27).attr("width", 232).attr("height", H + 74)

  const panel = svg.append("g").attr("clip-path", "url(#clip" + i + ")")
  panel.append("rect").attr("x", bx - 45).attr("y", by - 27).attr("width", 232).attr("height", H + 74)
    .attr("fill", "#f6f8f6")

  panel.append("text").attr("x", tagX[col]).attr("y", by - 14)
    .attr("font-size", 20).attr("font-weight", "bold").text(tag)

  const g = panel.append("g").attr("transform", "translate(" + bx + "," + by + ")")

  const x = d3.scaleLinear().domain([0, 3]).range([0, W])
  const y = d3.scaleLinear().domain([0, 3]).range([H, 0])

  g.append("text").attr("x", W / 2).attr("y", -8).attr("text-anchor", "middle")
    .attr("font-size", 13).attr("font-weight", "bold").style("white-space", "pre")
    .text("Number of Data:" + fmtN(nData[i]))

  // ticks on all four sides, pointing inward
  const minor = d3.range(0, 3.001, 0.1)
  const addAxis = (axis, tr, labels) => {
    const a = g.append("g").attr("transform", tr)
    a.call(axis.tickValues(minor).tickSizeInner(-2.5).tickSizeOuter(0).tickFormat(""))
    const b = g.append("g").attr("transform", tr)
    b.call(axis.tickValues(axisTicks).tickSizeInner(-5).tickSizeOuter(0)
        .tickFormat(labels ? d3.format("d") : ""))
    a.select(".domain").remove()
    b.select(".domain").remove()
    b.selectAll("text").attr("font-size", 10).attr("font-weight", "bold")
      .style("font-family", "'Liberation Sans', Arial, sans-serif")
  }
  addAxis(d3.axisBottom(x).tickPadding(12), "translate(0," + H + ")", true)
  addAxis(d3.axisTop(x), "translate(0,0)", false)
  addAxis(d3.axisLeft(y).tickPadding(5), "translate(0,0)", true)
  addAxis(d3.axisRight(y), "translate(" + W + ",0)", false)

  // black markers
  g.selectAll(".blk")
    .data(blkSets[i])
    .enter()
    .append("path")
      .attr("transform", d => "translate(" + x(d[0]) + "," + y(d[1]) + ")")
      .attr("d", d => symPath[d[2]])
      .attr("fill", "none")
      .attr("stroke", d => symColor[d[2]])
      .attr("stroke-width", 0.9)

  // 1:1 line
  g.append("line")
    .attr("x1", x(0)).attr("y1", y(0)).attr("x2", x(3)).attr("y2", y(3))
    .attr("stroke", "#000").attr("stroke-width", 1.2)

  // red points
  g.selectAll(".red")
    .data(redSets[i])
    .enter()
    .append("circle")
      .attr("cx", d => x(d[0]))
      .attr("cy", d => y(d[1]))
      .attr("r", 2.6)
      .attr("fill", "#ff0000")

  // regression line
  g.append("line")
    .attr("x1", x(0)).attr("y1", y(fitAt0[i])).attr("x2", x(3)).attr("y2", y(fitAt3[i]))
    .attr("stroke", "#ff0000").attr("stroke-width", 1.2).attr("stroke-dasharray", "4,3")

  g.append("rect").attr("width", W).attr("height", H)
    .attr("fill", "none").attr("stroke", "#000").attr("stroke-width", 1)

  g.append("text").attr("x", 5).attr("y", 16)
    .attr("font-size", 10.5).attr("font-weight", "bold").attr("fill", "#ff0000")
    .text("R: " + rTotal[i])

  // seasonal R, fixed slots from the bottom
  const seasons = [["MAM", mamR[i], 36], ["JJA", jjaR[i], 25.5], ["SON", sonR[i], 15], ["DJF", djfR[i], 4]]
  seasons.filter(s => s[1] !== null).forEach(s => {
    g.append("text").attr("x", W - 5).attr("y", H - s[2]).attr("text-anchor", "end")
      .attr("font-size", 8).attr("font-weight", "bold").attr("fill", "#222")
      .style("white-space", "pre")
      .text(s[0] + "_R:" + fmtR(s[1]))
  })

  // axis titles
  g.append("text").attr("x", W / 2).attr("y", H + 34).attr("text-anchor", "middle")
    .attr("font-size", 10.5).attr("font-weight", "bold").text("AERONET AOD[500nm]")
  g.append("text").attr("x", W / 2).attr("y", H + 47).attr("text-anchor", "middle")
    .attr("font-size", 10.5).attr("font-weight", "bold").text(stations[row])

  g.append("text").attr("transform", "translate(-29," + (H / 2) + ") rotate(-90)")
    .attr("text-anchor", "middle").attr("font-size", 10.5).attr("font-weight", "bold")
    .text(sensors[col] + "_AOD over LAND")
  g.append("text").attr("transform", "translate(-20," + (H / 2) + ") rotate(-90)")
    .attr("text-anchor", "middle").attr("font-size", 10).attr("font-weight", "bold")
    .text("from MTSAT-1R[550nm]")
})
</script>
</body>
</html>
